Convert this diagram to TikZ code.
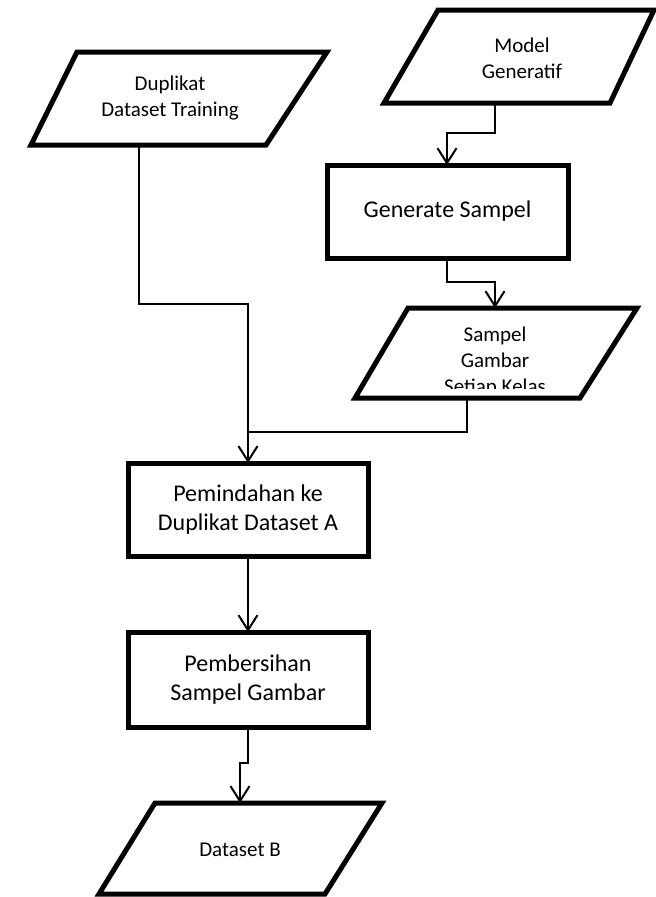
\documentclass[tikz,border=0pt]{standalone}
\usepackage{fontspec}
\setmainfont{Carlito}
\usetikzlibrary{arrows.meta}
\begin{document}
\begin{tikzpicture}[x=1pt,y=-1pt,
  shapeline/.style={line width=5pt,line join=miter},
  conn/.style={line width=2pt},
  arr/.style={conn,-{Straight Barb[length=15pt,width=19pt,line width=2pt]}},
  partext/.style={align=center,font=\fontsize{21}{26}\selectfont,inner sep=0pt},
  boxnode/.style={draw,shapeline,align=center,font=\fontsize{24}{29.5}\selectfont,inner sep=0pt,outer sep=0pt,minimum width=240pt,minimum height=93pt}]
\useasboundingbox (0,0) rectangle (656,897);
\fill[white] (0,0) rectangle (656,897);

% Duplikat Dataset Training
\draw[shapeline] (77,52) -- (327,52) -- (266,145) -- (31,145) -- cycle;
\node[partext] (dup) at (170,98.5) {Duplikat\\Dataset Training};
\coordinate (dupout) at (139,145);

% Model Generatif
\draw[shapeline] (438,10) -- (654,10) -- (610,103) -- (384,103) -- cycle;
\node[partext] (model) at (522,58.5) {Model\\Generatif};
\coordinate (modelout) at (495,103);

% Generate Sampel
\node[boxnode,minimum width=241pt] (gen) at (447.5,211.5) {Generate Sampel};

% Sampel Gambar Setiap Kelas
\draw[shapeline] (408,308) -- (637,308) -- (580,398) -- (355,398) -- cycle;
\begin{scope}
\clip (355,300) rectangle (640,388.5);
\node[partext] (samp) at (495,362) {Sampel\\Gambar\\Setiap Kelas};
\end{scope}
\coordinate (sampin) at (495,308);
\coordinate (sampout) at (467,398);

% Pemindahan
\node[boxnode] (pem) at (248,509.5) {Pemindahan ke\\Duplikat Dataset A};

% Pembersihan
\node[boxnode,minimum height=95pt] (pemb) at (248,679.5) {Pembersihan\\Sampel Gambar};

% Dataset B
\draw[shapeline] (155,803) -- (382,803) -- (325,894) -- (99,894) -- cycle;
\node[partext] (dsb) at (240,850) {Dataset B};
\coordinate (dsbin) at (240,803);

% connectors
\coordinate (join) at (248,432);
\draw[arr] (dupout) |- (248,304) -- (pem.north);
\draw[arr] (modelout) -- (495,133) -- (447,133) -- (447,165);
\draw[arr] (447,258) -- (447,282) -- (495,282) -- (sampin);
\draw[conn] (sampout) |- (join);
\draw[arr] (pem.south) -- (pemb.north);
\draw[arr] (pemb.south) -- (248,763) -- (240,763) -- (dsbin);
\end{tikzpicture}
\end{document}
